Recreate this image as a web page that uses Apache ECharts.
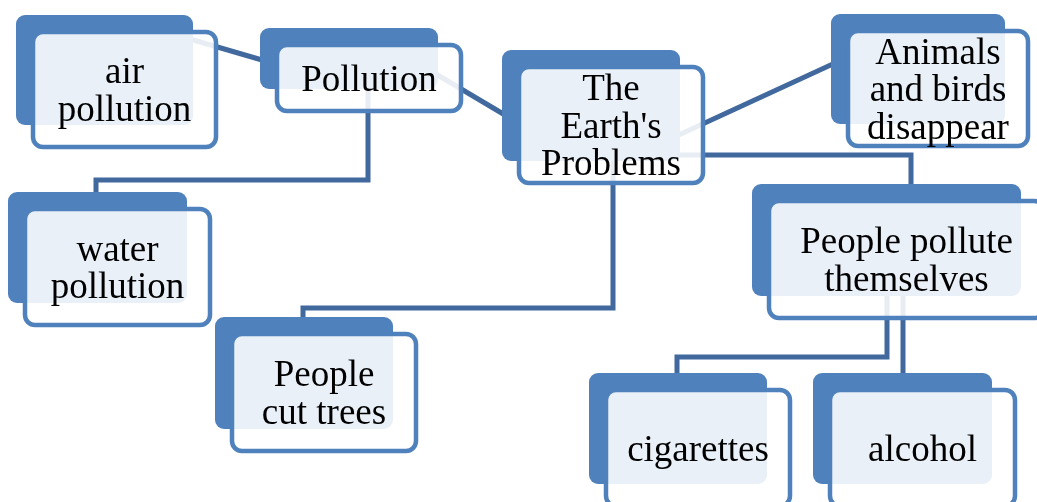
<!DOCTYPE html>
<html>
<head>
<meta charset="utf-8">
<script src="https://cdn.jsdelivr.net/npm/echarts@6/dist/echarts.min.js"></script>
<style>
html,body{margin:0;padding:0;background:#ffffff;}
#chart{width:1037px;height:502px;}
</style>
</head>
<body>
<div id="chart"></div>
<script>
// Node texts and front-box centres / sizes (diagram units)
var nodeLabels = ["air\npollution", "Pollution", "The\nEarth's\nProblems", "Animals\nand birds\ndisappear",
                  "water\npollution", "People\ncut trees", "People pollute\nthemselves", "cigarettes", "alcohol"];
var nodeX = [124.5, 369, 611, 938, 117.5, 324, 906.5, 698, 922.5];
var nodeY = [89.5, 78, 125, 88.5, 267, 392.5, 259.5, 448, 448];
var nodeW = [187, 188, 188, 184, 189, 188, 279, 188, 189];
var nodeH = [119, 70, 120, 119, 120, 121, 121, 120, 120];

// Connector paths (diagram units)
var connectors = [
  [[190, 39], [262, 60]],
  [[430, 70.5], [510, 118]],
  [[368, 85], [368, 180], [96, 180], [96, 196]],
  [[613, 150], [613, 308], [303, 308], [303, 320]],
  [[670, 139], [835, 63]],
  [[676, 155], [911, 155], [911, 190]],
  [[887, 290], [887, 357], [677, 357], [677, 378]],
  [[903, 290], [903, 378]]
];

var BLUE = '#4F81BD';
var LINE = '#41699E';

var chart = echarts.init(document.getElementById('chart'), null, {renderer: 'canvas'});

var nodeData = nodeLabels.map(function (t, i) {
  return [nodeX[i], nodeY[i], nodeW[i], nodeH[i], t];
});

function renderNode(params, api) {
  var c = api.coord([api.value(0), api.value(1)]);
  var s = api.size([api.value(2), api.value(3)]);
  var w = s[0], h = s[1];
  var fx = c[0] - w / 2, fy = c[1] - h / 2;
  var label = nodeLabels[params.dataIndex];
  return {
    type: 'group',
    children: [
      {
        type: 'rect',
        shape: {x: fx - 15, y: fy - 15, width: w - 10, height: h - 9, r: 9},
        style: {fill: BLUE}
      },
      {
        type: 'rect',
        shape: {x: fx + 2, y: fy + 2, width: w - 4, height: h - 4, r: 10},
        style: {fill: 'rgba(255,255,255,0.88)', stroke: BLUE, lineWidth: 4.5}
      },
      {
        type: 'text',
        style: {
          text: label,
          x: c[0],
          y: c[1] + 3,
          align: 'center',
          verticalAlign: 'middle',
          font: '37px "Liberation Serif", "Times New Roman", serif',
          lineHeight: 37.5,
          fill: '#000000'
        }
      }
    ]
  };
}

chart.setOption({
  backgroundColor: '#ffffff',
  animation: false,
  grid: {left: 0, right: 0, top: 0, bottom: 0},
  xAxis: {type: 'value', min: 0, max: 1037, show: false},
  yAxis: {type: 'value', min: 0, max: 502, inverse: true, show: false},
  series: [
    {
      type: 'lines',
      coordinateSystem: 'cartesian2d',
      polyline: true,
      silent: true,
      z: 1,
      lineStyle: {color: LINE, width: 5, opacity: 1, cap: 'butt', join: 'miter'},
      data: connectors.map(function (c) { return {coords: c}; })
    },
    {
      type: 'custom',
      coordinateSystem: 'cartesian2d',
      silent: true,
      z: 2,
      clip: false,
      encode: {x: 0, y: 1},
      renderItem: renderNode,
      data: nodeData
    }
  ]
});
</script>
</body>
</html>
